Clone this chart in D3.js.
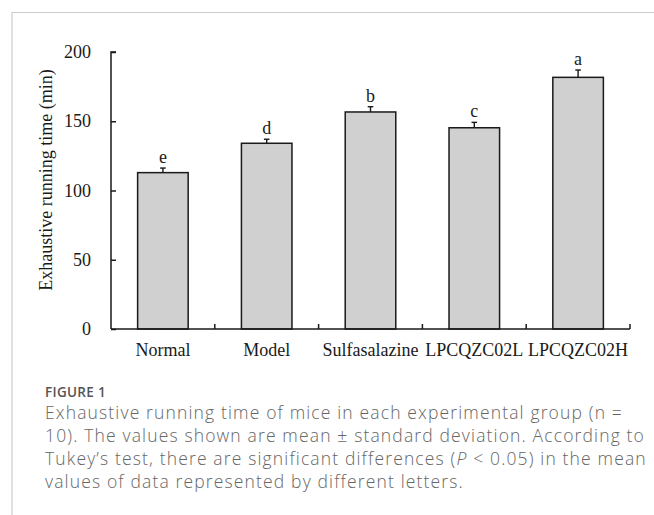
<!DOCTYPE html>
<html>
<head>
<meta charset="utf-8">
<script src="https://cdn.jsdelivr.net/npm/d3@7/dist/d3.min.js"></script>
<style>
  html, body { margin: 0; padding: 0; background: #fff; }
  svg { display: block; }
</style>
</head>
<body>
<svg id="chart" width="654" height="515"></svg>
<script>
const categories = ["Normal", "Model", "Sulfasalazine", "LPCQZC02L", "LPCQZC02H"];
const means = [112.9, 134.1, 156.7, 145.3, 181.7];
const sds = [3.3, 2.9, 3.8, 3.9, 5.3];
const letters = ["e", "d", "b", "c", "a"];
const yTicks = [0, 50, 100, 150, 200];
const yLabel = "Exhaustive running time (min)";
const captionTitle = "FIGURE 1";
const captionLines = [
  "Exhaustive running time of mice in each experimental group (n =",
  "10). The values shown are mean \u00B1 standard deviation. According to",
  "Tukey\u2019s test, there are significant differences (P < 0.05) in the mean",
  "values of data represented by different letters."
];

const svg = d3.select("#chart");
const serif = "'Liberation Serif', 'Times New Roman', serif";

// frame
svg.append("path")
  .attr("d", "M12,515 L12,12.5 L654,12.5")
  .attr("fill", "none").attr("stroke", "#cccccc").attr("stroke-width", 1.2);

const x = d3.scaleBand().domain(categories).range([111, 630]).padding(0);
const y = d3.scaleLinear().domain([0, 200]).range([329, 52]);
const barW = x.bandwidth() * 0.487;

const g = svg.append("g");

// bars
g.selectAll("rect.bar").data(categories).join("rect")
  .attr("class", "bar")
  .attr("x", d => x(d) + (x.bandwidth() - barW) / 2)
  .attr("width", barW)
  .attr("y", (d, i) => y(means[i]))
  .attr("height", (d, i) => y(0) - y(means[i]))
  .attr("fill", "#d0d0d0")
  .attr("stroke", "#1a1a1a")
  .attr("stroke-width", 1.5);

// error bars (upper only)
categories.forEach((c, i) => {
  const cx = x(c) + x.bandwidth() / 2;
  g.append("line").attr("x1", cx).attr("x2", cx)
    .attr("y1", y(means[i])).attr("y2", y(means[i] + sds[i]))
    .attr("stroke", "#1a1a1a").attr("stroke-width", 1.4);
  g.append("line").attr("x1", cx - 2.8).attr("x2", cx + 2.8)
    .attr("y1", y(means[i] + sds[i])).attr("y2", y(means[i] + sds[i]))
    .attr("stroke", "#1a1a1a").attr("stroke-width", 1.4);
  g.append("text").attr("x", cx).attr("y", y(means[i] + sds[i]) - 5)
    .attr("text-anchor", "middle")
    .attr("font-family", serif).attr("font-size", 18).attr("fill", "#1a1a1a")
    .text(letters[i]);
});

// y axis
const yAxis = d3.axisRight(y).tickValues(yTicks).tickSize(5).tickFormat("");
const yG = svg.append("g").attr("transform", "translate(111,0)").call(yAxis);
yG.select(".domain").attr("d", `M5,${y(200)}H0V${y(0)}`).attr("stroke", "#1a1a1a").attr("stroke-width", 1.5);
yG.selectAll(".tick line").attr("stroke", "#1a1a1a").attr("stroke-width", 1.5);
yTicks.forEach(t => {
  svg.append("text").attr("x", 91).attr("y", y(t)).attr("dy", "0.34em")
    .attr("text-anchor", "end")
    .attr("font-family", serif).attr("font-size", 18).attr("fill", "#1a1a1a")
    .text(t);
});

// x axis
const xAxis = d3.axisTop(x).tickSize(0).tickFormat("");
const xG = svg.append("g").attr("transform", "translate(0,329)").call(xAxis);
xG.select(".domain").attr("d", "M111,0H630").attr("stroke", "#1a1a1a").attr("stroke-width", 1.5);
xG.selectAll(".tick").remove();
categories.forEach(c => {
  const bx = x(c) + x.bandwidth();
  xG.append("line").attr("x1", bx).attr("x2", bx).attr("y1", 0).attr("y2", -5)
    .attr("stroke", "#1a1a1a").attr("stroke-width", 1.5);
  svg.append("text").attr("x", x(c) + x.bandwidth() / 2).attr("y", 356)
    .attr("text-anchor", "middle")
    .attr("font-family", serif).attr("font-size", 18).attr("fill", "#1a1a1a")
    .text(c);
});

// y label
svg.append("text")
  .attr("transform", "translate(52,180) rotate(-90)")
  .attr("text-anchor", "middle")
  .attr("font-family", serif).attr("font-size", 18).attr("fill", "#1a1a1a")
  .text(yLabel);

// caption
const sans = "'Open Sans', 'Noto Sans', sans-serif";
svg.append("text").attr("x", 45).attr("y", 397)
  .attr("font-family", sans).attr("font-size", 13.5).attr("font-weight", 600)
  .attr("letter-spacing", 0.3)
  .attr("fill", "#555").text(captionTitle);
const capNodes = captionLines.map((line, i) => {
  const t = svg.append("text").attr("x", 45).attr("y", 419 + i * 23)
    .attr("font-family", sans).attr("font-size", 17.5).attr("font-weight", 300)
    .attr("fill", "#666");
  if (line.includes("(P <")) {
    const parts = line.split("P");
    t.append("tspan").text(parts[0]);
    t.append("tspan").attr("font-style", "italic").text("P");
    t.append("tspan").text(parts.slice(1).join("P"));
  } else {
    t.text(line);
  }
  return t;
});
// uniform letter spacing so the widest caption line spans ~600px
let widest = 0, widestLen = 1;
capNodes.forEach((t, i) => {
  const w = t.node().getComputedTextLength();
  if (w > widest) { widest = w; widestLen = captionLines[i].length; }
});
const ls = Math.max(0, (600 - widest) / widestLen);
capNodes.forEach(t => t.attr("letter-spacing", ls));
</script>
</body>
</html>
